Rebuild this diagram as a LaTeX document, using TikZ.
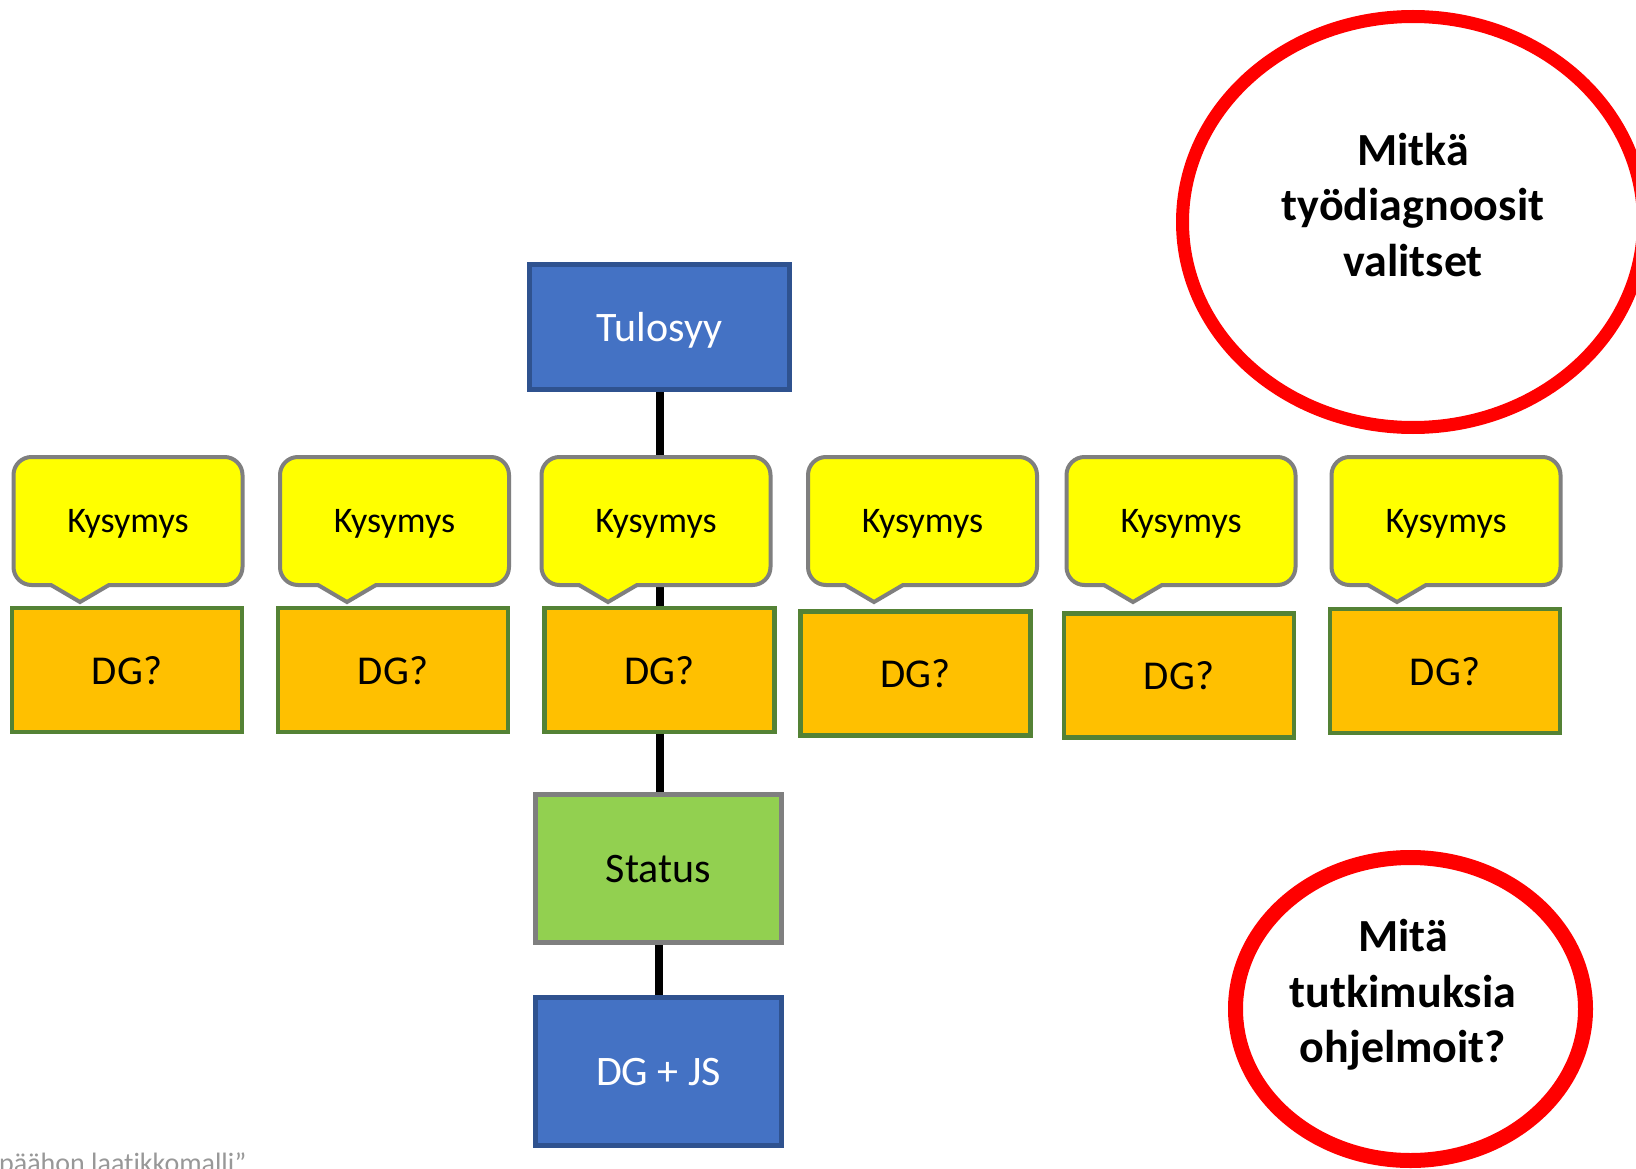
\documentclass[tikz,border=0pt]{standalone}
\usepackage{fontspec}
\setmainfont{Carlito}[Ligatures=NoCommon]
\usetikzlibrary{shapes.geometric}
\definecolor{boxblue}{HTML}{4472C4}
\definecolor{boxblueborder}{HTML}{2F528F}
\definecolor{dgorange}{HTML}{FFC000}
\definecolor{dggreen}{HTML}{548235}
\definecolor{statusgreen}{HTML}{92D050}
\definecolor{bordergrey}{HTML}{7F7F7F}
\definecolor{askyellow}{HTML}{FFFF00}
\definecolor{ringred}{HTML}{FF0000}
\definecolor{notegrey}{HTML}{989898}
\begin{document}
\begin{tikzpicture}[x=1pt,y=-1pt,
  bluebox/.style={draw=boxblueborder, fill=boxblue, line width=5pt, inner sep=0pt,
    text=white, font=\fontsize{42}{50}\selectfont, text depth=0pt},
  dgbox/.style={draw=dggreen, fill=dgorange, line width=4.5pt, inner sep=0pt,
    minimum width=230pt, minimum height=124pt,
    font=\fontsize{41}{49}\selectfont, text depth=0pt},
  statusbox/.style={draw=bordergrey, fill=statusgreen, line width=5pt, inner sep=0pt,
    minimum width=246pt, minimum height=148pt,
    font=\fontsize{42}{50}\selectfont, text depth=0pt},
  askbox/.style={draw=bordergrey, fill=askyellow, line width=4pt, rounded corners=18pt,
    inner sep=0pt, minimum width=229pt, minimum height=128pt,
    font=\fontsize{36}{43}\selectfont, text depth=0pt},
  tailline/.style={draw=bordergrey, line width=4pt, line cap=round, line join=miter},
  conn/.style={draw=black, line width=8pt},
  ring/.style={draw=ringred, ellipse, inner sep=0pt},
  ringtext/.style={align=center, font=\bfseries\fontsize{46}{55.5}\selectfont, inner sep=0pt},
  notetext/.style={text=notegrey, font=\fontsize{28}{33}\selectfont, inner sep=0pt}
]
\useasboundingbox (0,0) rectangle (1636,1169);
\clip (0,0) rectangle (1636,1169);
\fill[white] (0,0) rectangle (1636,1169);

% red rings
\node[ring, line width=13pt, minimum width=461pt, minimum height=411pt] (ring1) at (1413,222) {};
\node[ringtext] (q1) at (1413,205) {Mitkä\\työdiagnoosit\\valitset};
\node[ring, line width=15pt, minimum width=350pt, minimum height=303pt] (ring2) at (1410.5,1009) {};
\node[ringtext] (q2) at (1403,995) {Mitä\\tutkimuksia\\ohjelmoit?};

% main boxes
\node[bluebox, minimum width=260pt, minimum height=125pt] (tulo) at (659.5,327) {Tulosyy};
\node[dgbox] (dg1) at (127,670) {DG?};
\node[dgbox] (dg2) at (393,670) {DG?};
\node[dgbox] (dg3) at (659.5,670) {DG?};
\node[dgbox] (dg4) at (915.5,673.5) {DG?};
\node[dgbox] (dg5) at (1179,675.5) {DG?};
\node[dgbox] (dg6) at (1445,671) {DG?};
\node[statusbox] (status) at (658.5,868.5) {Status};
\node[bluebox, minimum width=246pt, minimum height=148pt] (dgjs) at (658.5,1071.5) {DG + JS};

% connectors
\draw[conn] (tulo.south) -- (tulo.south |- dg3.north);
\draw[conn] (dg3.south) -- (dg3.south |- status.north);
\draw[conn] (status.south) -- (status.south |- dgjs.north);

% question callouts
\foreach \i/\cx/\tx in {1/128/80, 2/394.5/347, 3/656/608, 4/922.5/874, 5/1181/1133, 6/1446/1397}{
  \node[askbox] (k\i) at (\cx,521) {Kysymys};
  \fill[askyellow] (\tx-29,585) -- (\tx,602) -- (\tx+29,585) -- (\tx+29,582.4) -- (\tx-29,582.4) -- cycle;
  \draw[tailline] (\tx-29,585) -- (\tx,602) -- (\tx+29,585);
}

% source note (cut off at the bottom edge, as in the reference)
\node[notetext, anchor=base west] (note) at (-1,1172) {päähon laatikkomalli”};
\end{tikzpicture}
\end{document}
